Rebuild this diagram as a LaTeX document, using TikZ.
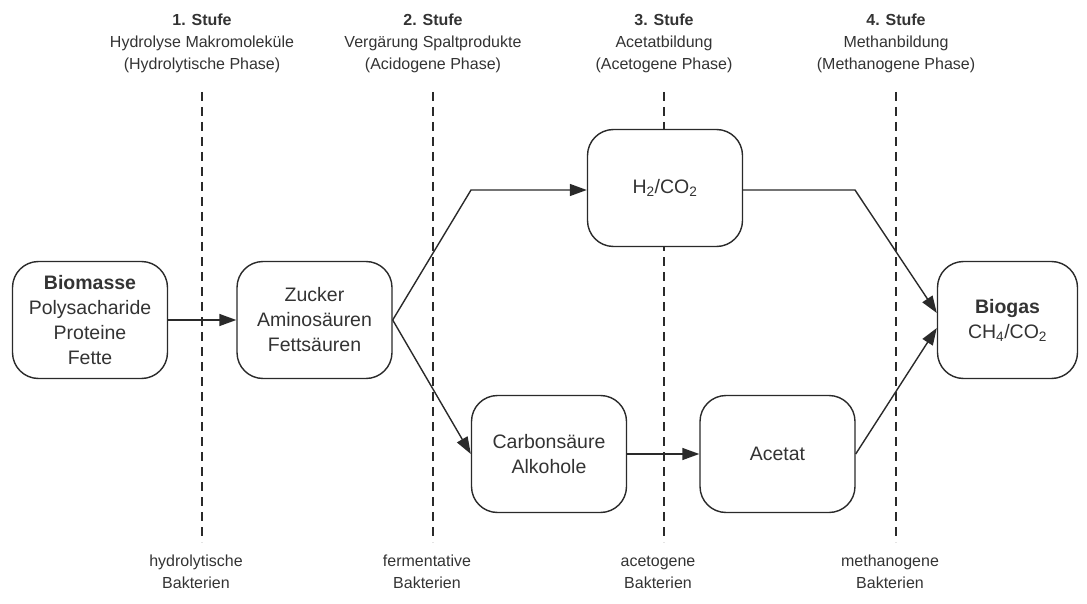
\documentclass[tikz,border=0pt]{standalone}
\usepackage{fontspec}
\setmainfont{Liberation Sans}
\usetikzlibrary{arrows.meta,positioning}
\definecolor{inkgray}{HTML}{2A2A2A}
\definecolor{txtgray}{HTML}{333333}
\tikzset{
  phase/.style={draw=inkgray, line width=1.4pt, rounded corners=26pt,
    minimum width=155pt, minimum height=117pt, align=center,
    text=txtgray, font=\fontsize{19.5}{25}\selectfont},
  flow/.style={draw=inkgray, line width=1.4pt,
    -{Triangle[length=17pt,width=12pt]}},
  stageline/.style={draw=inkgray, line width=1.4pt,
    dash pattern=on 9pt off 6pt},
  stagehead/.style={align=center, text=txtgray,
    font=\fontsize{16}{22}\selectfont},
  bacteria/.style={align=center, text=txtgray,
    font=\fontsize{16}{22}\selectfont}
}
\begin{document}
\begin{tikzpicture}[x=1pt,y=-1pt]
  \useasboundingbox (0,0) rectangle (1087,604);
  % stage separators
  \draw[stageline] (202,92) coordinate (s1t) -- (202,542) coordinate (s1b);
  \draw[stageline] (433,92) coordinate (s2t) -- (433,542) coordinate (s2b);
  \draw[stageline] (664,92) coordinate (s3t) -- (664,542) coordinate (s3b);
  \draw[stageline] (896,92) coordinate (s4t) -- (896,542) coordinate (s4b);
  % stage titles
  \node[stagehead] (head1) at (202,43)
    {\textbf{1. Stufe}\\Hydrolyse Makromoleküle\\(Hydrolytische Phase)};
  \node[stagehead] (head2) at (433,43)
    {\textbf{2. Stufe}\\Vergärung Spaltprodukte\\(Acidogene Phase)};
  \node[stagehead] (head3) at (664,43)
    {\textbf{3. Stufe}\\Acetatbildung\\(Acetogene Phase)};
  \node[stagehead] (head4) at (896,43)
    {\textbf{4. Stufe}\\Methanbildung\\(Methanogene Phase)};
  % bacteria
  \node[bacteria] (bact1) at (196,572) {hydrolytische\\Bakterien};
  \node[bacteria] (bact2) at (427,572) {fermentative\\Bakterien};
  \node[bacteria] (bact3) at (658,572) {acetogene\\Bakterien};
  \node[bacteria] (bact4) at (890,572) {methanogene\\Bakterien};
  % substances
  \node[phase, fill=white] (biomasse) at (90,320)
    {\textbf{Biomasse}\\Polysacharide\\Proteine\\Fette};
  \node[phase, fill=white] (zucker) at (314.5,320)
    {Zucker\\Aminosäuren\\Fettsäuren};
  \node[phase, fill=white] (wasserstoff) at (665,188)
    {H\textsubscript{2}/CO\textsubscript{2}};
  \node[phase, fill=white] (carbon) at (549,454)
    {Carbonsäure\\Alkohole};
  \node[phase, fill=white] (acetat) at (777.5,454) {Acetat};
  \node[phase, fill=white, minimum width=140pt] (biogas) at (1007.5,320)
    {\textbf{Biogas}\\CH\textsubscript{4}/CO\textsubscript{2}};
  \coordinate (bend1) at (471,190);
  \coordinate (bend2) at (855,190);
  % flows
  \draw[flow] (biomasse.east) -- (zucker.west);
  \draw[flow] (zucker.east) -- (bend1) -- (wasserstoff.west |- bend1);
  \draw[flow] (zucker.east) -- (carbon.west);
  \draw[flow] (carbon.east) -- (acetat.west);
  \draw[flow] (wasserstoff.east |- bend2) -- (bend2) -- ([yshift=7pt]biogas.west);
  \draw[flow] (acetat.east) -- ([yshift=-8pt]biogas.west);
\end{tikzpicture}
\end{document}
